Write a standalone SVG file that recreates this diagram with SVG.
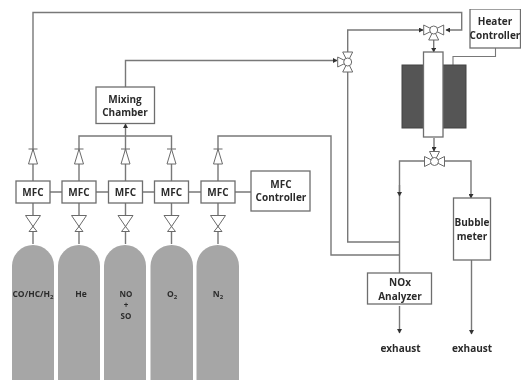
<svg xmlns="http://www.w3.org/2000/svg" width="523" height="380" viewBox="0 0 523 380">
<style>
.box{fill:#fff;stroke:#6e6e6e;stroke-width:1.3}
.cyl{fill:#a6a6a6}
.ln{fill:none;stroke:#787878;stroke-width:1.4}
.v{fill:#fff;stroke:#6a6a6a;stroke-width:1}
text{font-family:"Open Sans","Noto Sans",sans-serif;font-weight:700;font-size:10px;fill:#2c2c2c;text-anchor:middle}
.s{font-size:8.500px}
.t{font-size:8px}
.sub{font-size:6px}
</style>
<defs>
<filter id="soft" x="0" y="0" width="100%" height="100%"><feGaussianBlur stdDeviation="0.45"/></filter>
<marker id="a" markerWidth="5" markerHeight="5" refX="4" refY="2.500" orient="auto" markerUnits="userSpaceOnUse"><path d="M0,0L4.500,2.500L0,5Z" fill="#333"/></marker>
<g id="check"><path class="v" d="M0,0L4.500,15H-4.500Z"/><path d="M-4.500,0H4.500" stroke="#6a6a6a" stroke-width="1"/></g>
<g id="needle"><path class="v" d="M-7.500,0H7.500L0,11Z"/><path class="v" d="M0,11L4,16H-4Z"/></g>
<path id="tri" class="v" d="M0,0L-5,-10H5Z"/>
</defs>
<rect width="523" height="380" fill="#fff"/>
<g filter="url(#soft)">
<g id="connectors">
<path class="ln" d="M33,181V12.500H461.700V30H446" marker-end="url(#a)"/>
<path class="ln" d="M125.500,87V60.500H337" marker-end="url(#a)"/>
<path class="ln" d="M347.700,52V30H423" marker-end="url(#a)"/>
<path class="ln" d="M347.700,72V242H399"/>
<path class="ln" d="M79,149V136H171.500V149"/>
<path class="ln" d="M125.500,181V124" marker-end="url(#a)"/>
<path class="ln" d="M218,149V136H331V255H399"/>
<path class="ln" d="M79,164V181M171.500,164V181M218,164V181"/>
<path class="ln" d="M50,192H62M96,192H108M142,192H154M188,192H201M235,192H251"/>
<path class="ln" d="M33,203V244M79,203V244M125.500,203V244M171.500,203V244M218,203V244"/>
<path class="ln" d="M433.700,40V52" marker-end="url(#a)"/>
<path class="ln" d="M495.500,48V56.500H453V65" style="stroke-width:1.100"/>
<path class="ln" d="M434,138V151" marker-end="url(#a)"/>
<path class="ln" d="M424,161H399.500V273"/>
<path class="ln" d="M399.500,185V196" marker-end="url(#a)"/>
<path class="ln" d="M444,161H471V198" marker-end="url(#a)"/>
<path class="ln" d="M471.500,260V334" marker-end="url(#a)"/>
<path class="ln" d="M399.500,306V333" marker-end="url(#a)"/>
</g>
<g id="cylinders">
<path class="cyl" d="M12,380V266A21,21 0 0 1 54,266V380Z"/>
<path class="cyl" d="M58,380V266A21,21 0 0 1 100,266V380Z"/>
<path class="cyl" d="M104,380V266A21,21 0 0 1 146,266V380Z"/>
<path class="cyl" d="M150.500,380V266A21.200,21 0 0 1 193,266V380Z"/>
<path class="cyl" d="M196.500,380V266A21.200,21 0 0 1 239,266V380Z"/>
<text class="s" x="33" y="297">CO/HC/H<tspan class="sub" dy="2">2</tspan></text>
<text class="s" x="81" y="297">He</text>
<text class="t" x="126" y="296.500">NO</text>
<text class="t" x="126" y="307.500">+</text>
<text class="t" x="126" y="318.500">SO</text>
<text class="s" x="172" y="297">O<tspan class="sub" dy="2">2</tspan></text>
<text class="s" x="218" y="297">N<tspan class="sub" dy="2">2</tspan></text>
</g>
<g id="check-valves">
<use href="#check" x="33" y="149"/><use href="#check" x="79" y="149"/><use href="#check" x="125.500" y="149"/><use href="#check" x="171.500" y="149"/><use href="#check" x="218" y="149"/>
</g>
<g id="needle-valves">
<use href="#needle" x="33" y="215.500"/><use href="#needle" x="79" y="215.500"/><use href="#needle" x="125.500" y="215.500"/><use href="#needle" x="171.500" y="215.500"/><use href="#needle" x="218" y="215.500"/>
</g>
<g id="mixing-chamber"><rect class="box" x="96" y="87" width="58.500" height="36.500"/><text x="125" y="103">Mixing</text><text x="125" y="116">Chamber</text></g>
<g id="mfc1"><rect class="box" x="16" y="181" width="34" height="22"/><text x="33" y="196">MFC</text></g>
<g id="mfc2"><rect class="box" x="62" y="181" width="34" height="22"/><text x="79" y="196">MFC</text></g>
<g id="mfc3"><rect class="box" x="108.500" y="181" width="34" height="22"/><text x="125.500" y="196">MFC</text></g>
<g id="mfc4"><rect class="box" x="154.500" y="181" width="34" height="22"/><text x="171.500" y="196">MFC</text></g>
<g id="mfc5"><rect class="box" x="201" y="181" width="34" height="22"/><text x="218" y="196">MFC</text></g>
<g id="mfc-controller"><rect class="box" x="251" y="171" width="59" height="40"/><text x="281" y="188">MFC</text><text x="281" y="201">Controller</text></g>
<g id="furnace"><rect x="402" y="65" width="64" height="63" fill="#555" stroke="#444"/></g>
<g id="reactor"><rect class="box" x="423.500" y="52" width="19.500" height="85"/></g>
<g id="heater-controller"><rect class="box" x="470" y="9" width="50.500" height="39"/><text x="495" y="25">Heater</text><text x="495" y="39">Controller</text></g>
<g id="valve-a" transform="translate(347.700,62)"><use href="#tri"/><use href="#tri" transform="rotate(180)"/><use href="#tri" transform="rotate(-90)"/><circle class="v" r="4"/></g>
<g id="valve-b" transform="translate(433.700,30)"><use href="#tri" transform="rotate(90)"/><use href="#tri" transform="rotate(-90)"/><use href="#tri" transform="rotate(180)"/><circle class="v" r="4"/></g>
<g id="valve-c" transform="translate(434.500,161.500)"><use href="#tri" transform="rotate(90)"/><use href="#tri" transform="rotate(-90)"/><use href="#tri"/><circle class="v" r="4"/></g>
<g id="nox-analyzer"><rect class="box" x="367.500" y="273" width="64" height="31"/><text x="400" y="286">NOx</text><text x="400" y="300">Analyzer</text></g>
<g id="bubble-meter"><rect class="box" x="453.500" y="198" width="37" height="62"/><text x="472" y="226">Bubble</text><text x="472" y="240">meter</text></g>
<text x="400.500" y="352">exhaust</text>
<text x="472" y="352">exhaust</text>
</g>
</svg>
